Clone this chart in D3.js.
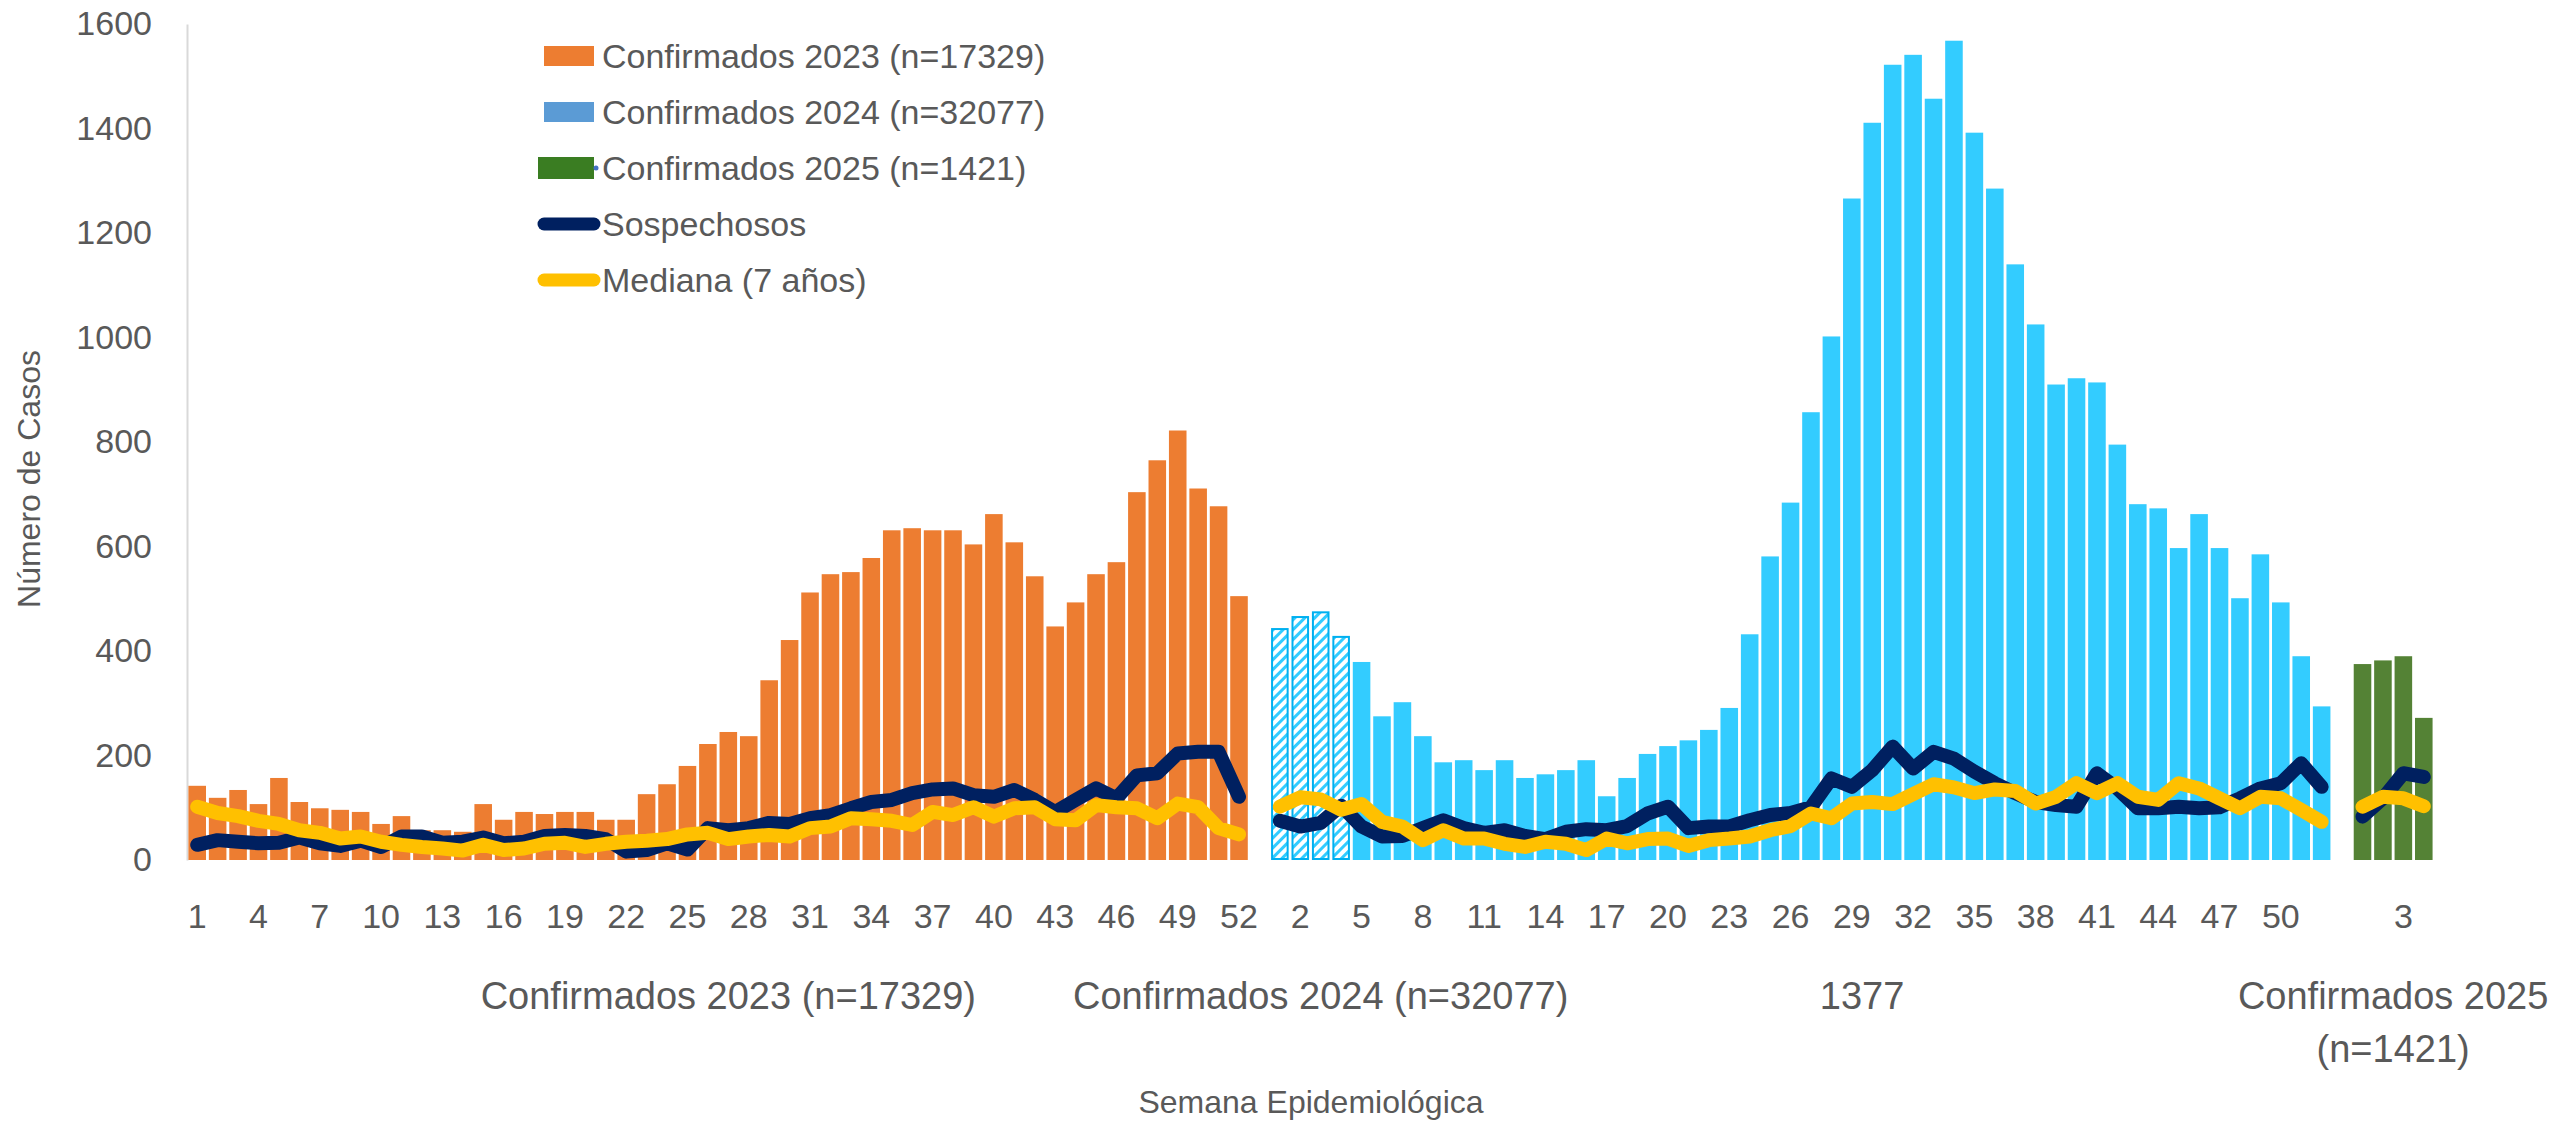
<!DOCTYPE html>
<html>
<head>
<meta charset="utf-8">
<script src="https://cdnjs.cloudflare.com/ajax/libs/d3/7.8.5/d3.min.js"></script>
<style>
body { margin: 0; background: #fff; }
text { font-family: "Liberation Sans", Arial, sans-serif; fill: #595959; }
</style>
</head>
<body>
<div id="chart"></div>
<script>
var width = 2554;
var height = 1121;

// casos confirmados por semana epidemiologica
var conf2023 = [142, 119, 134, 107, 157, 111, 99, 96, 92, 69, 84, 57, 57, 54, 107, 77, 92, 88, 92, 92,
    77, 77, 126, 145, 180, 222, 245, 237, 344, 421, 512, 547, 551, 578, 631, 635, 631, 631, 604, 662,
    608, 543, 447, 493, 547, 570, 704, 765, 822, 711, 677, 505];
var conf2024 = [442, 465, 474, 427, 379, 275, 302, 237, 187, 191, 172, 191, 157, 164, 172, 191, 122, 157, 203, 218,
    229, 249, 291, 432, 581, 684, 857, 1002, 1266, 1411, 1522, 1541, 1457, 1568, 1392, 1285, 1140, 1025, 910, 922,
    914, 795, 681, 673, 597, 662, 597, 501, 585, 493, 390, 294];
var conf2025 = [375, 382, 390, 272];
var hatched2024 = [1, 2, 3, 4];   // semanas con barras rayadas

var sosp2023 = [29, 38, 35, 32, 33, 43, 32, 27, 37, 25, 45, 45, 33, 35, 43, 32, 35, 46, 48, 46,
    40, 16, 19, 32, 20, 61, 57, 61, 71, 69, 80, 86, 99, 111, 115, 128, 135, 137, 124, 121,
    134, 115, 92, 115, 137, 118, 162, 166, 204, 207, 207, 121];
var sosp2024 = [75, 64, 71, 104, 64, 45, 46, 61, 76, 61, 52, 57, 46, 40, 54, 59, 57, 65, 89, 102,
    61, 64, 64, 76, 86, 90, 101, 156, 140, 172, 217, 175, 207, 194, 169, 147, 128, 111, 105, 102,
    166, 137, 99, 99, 102, 99, 101, 118, 137, 147, 185, 140];
var sosp2025 = [83, 118, 166, 159];

var med2023 = [102, 90, 84, 75, 69, 57, 52, 41, 45, 35, 29, 25, 22, 18, 29, 19, 22, 31, 33, 25,
    31, 35, 37, 40, 49, 52, 40, 45, 48, 45, 61, 64, 80, 78, 75, 67, 92, 86, 101, 83,
    99, 101, 78, 76, 105, 101, 99, 80, 108, 101, 61, 49];
var med2024 = [102, 120, 116, 96, 107, 73, 64, 38, 57, 41, 41, 31, 25, 35, 31, 19, 41, 32, 40, 41,
    27, 38, 41, 45, 57, 65, 89, 80, 108, 111, 107, 126, 145, 139, 128, 135, 132, 108, 121, 147,
    128, 147, 121, 115, 147, 137, 118, 99, 121, 118, 96, 73];
var med2025 = [102, 121, 118, 103];

var yTicks = [0, 200, 400, 600, 800, 1000, 1200, 1400, 1600];
var legendLabels = ["Confirmados 2023 (n=17329)", "Confirmados 2024 (n=32077)", "Confirmados 2025 (n=1421)",
    "Sospechosos", "Mediana (7 años)"];
// etiquetas de segundo nivel del eje x (posicion en indice de categoria)
var groupLabels = [
    {pos: 26, lines: ["Confirmados 2023 (n=17329)"]},
    {pos: 55, lines: ["Confirmados 2024 (n=32077)"]},
    {pos: 81.5, lines: ["1377"]},
    {pos: 107.5, lines: ["Confirmados 2025", "(n=1421)"]}
];

var orange = "#ED7D31", cyan = "#33CCFF", green = "#548235", navy = "#002060", gold = "#FFC000";

// categorias: 2023, hueco, 2024, hueco, 2025
var cats = [];
conf2023.forEach(function(v, i) { cats.push({key: "2023-" + (i + 1), week: i + 1}); });
cats.push({key: "gap1", week: null});
conf2024.forEach(function(v, i) { cats.push({key: "2024-" + (i + 1), week: i + 1}); });
cats.push({key: "gap2", week: null});
conf2025.forEach(function(v, i) { cats.push({key: "2025-" + (i + 1), week: i + 1}); });

var bars = [];
conf2023.forEach(function(v, i) { bars.push({key: "2023-" + (i + 1), value: v, fill: orange, hatch: false}); });
conf2024.forEach(function(v, i) {
    bars.push({key: "2024-" + (i + 1), value: v, fill: cyan, hatch: hatched2024.indexOf(i + 1) >= 0});
});
conf2025.forEach(function(v, i) { bars.push({key: "2025-" + (i + 1), value: v, fill: green, hatch: false}); });

function toLine(a, b, c) {
    var pts = [];
    cats.forEach(function(cat) {
        var v = null;
        if (cat.key.indexOf("2023-") == 0) v = a[cat.week - 1];
        if (cat.key.indexOf("2024-") == 0) v = b[cat.week - 1];
        if (cat.key.indexOf("2025-") == 0) v = c[cat.week - 1];
        pts.push({key: cat.key, value: v});
    });
    return pts;
}
var sospLine = toLine(sosp2023, sosp2024, sosp2025);
var medLine = toLine(med2023, med2024, med2025);

var svg = d3.select("#chart")
    .append("svg")
    .attr("width", width)
    .attr("height", height)
    .style("background", "#fff");

var x = d3.scaleBand()
    .domain(cats.map(function(d) { return d.key; }))
    .range([187, 2434])
    .paddingInner(0.14)
    .paddingOuter(0.07);

var y = d3.scaleLinear()
    .domain([0, 1600])
    .range([860, 24]);

function xAt(i) {
    var k = Math.floor(i);
    return x(cats[k].key) + x.bandwidth() / 2 + (i - k) * x.step();
}

var defs = svg.append("defs");
var pat = defs.append("pattern")
    .attr("id", "hatch")
    .attr("patternUnits", "userSpaceOnUse")
    .attr("width", 7)
    .attr("height", 7)
    .attr("patternTransform", "rotate(45)");
pat.append("rect").attr("width", 7).attr("height", 7).attr("fill", "#fff");
pat.append("rect").attr("width", 3).attr("height", 7).attr("fill", cyan);

// eje y
var yAxis = svg.append("g")
    .attr("transform", "translate(187,0)")
    .call(d3.axisLeft(y).tickValues(yTicks).tickFormat(d3.format("d"))
        .tickSize(0).tickSizeOuter(0).tickPadding(35));
yAxis.select(".domain").attr("stroke", "#D9D9D9").attr("stroke-width", 2);
yAxis.selectAll("text")
    .style("font-size", "34px")
    .style("font-family", "Liberation Sans, Arial, sans-serif")
    .attr("fill", "#595959");

// barras
svg.append("g")
    .selectAll("rect")
    .data(bars)
    .enter()
    .append("rect")
    .attr("x", function(d) { return d.hatch ? x(d.key) + 1 : x(d.key); })
    .attr("width", function(d) { return d.hatch ? x.bandwidth() - 2 : x.bandwidth(); })
    .attr("y", function(d) { return y(d.value); })
    .attr("height", function(d) { return y(0) - y(d.value) - (d.hatch ? 1 : 0); })
    .attr("fill", function(d) { return d.hatch ? "url(#hatch)" : d.fill; })
    .attr("stroke", function(d) { return d.hatch ? "#00B0F0" : "none"; })
    .attr("stroke-width", 2);

// lineas
var line = d3.line()
    .defined(function(d) { return d.value !== null; })
    .x(function(d) { return x(d.key) + x.bandwidth() / 2; })
    .y(function(d) { return y(d.value); });

svg.append("path")
    .datum(sospLine)
    .attr("d", line)
    .attr("fill", "none")
    .attr("stroke", navy)
    .attr("stroke-width", 14)
    .attr("stroke-linejoin", "round")
    .attr("stroke-linecap", "round");

svg.append("path")
    .datum(medLine)
    .attr("d", line)
    .attr("fill", "none")
    .attr("stroke", gold)
    .attr("stroke-width", 14)
    .attr("stroke-linejoin", "round")
    .attr("stroke-linecap", "round");

// eje x: semanas cada 3 categorias
var tickKeys = cats.filter(function(d, i) { return i % 3 == 0 && d.week !== null; })
    .map(function(d) { return d.key; });
var xAxis = svg.append("g")
    .attr("transform", "translate(0,860)")
    .call(d3.axisBottom(x).tickValues(tickKeys).tickSize(0).tickPadding(44)
        .tickFormat(function(k) { return k.split("-")[1]; }));
xAxis.select(".domain").remove();
xAxis.selectAll("text")
    .attr("dy", null)
    .style("font-size", "34px")
    .style("font-family", "Liberation Sans, Arial, sans-serif")
    .attr("fill", "#595959")
    .attr("y", 68);

// etiquetas de grupo
var gl = svg.append("g")
    .selectAll("text")
    .data(groupLabels)
    .enter()
    .append("text")
    .attr("x", function(d) { return xAt(d.pos); })
    .attr("y", 1009)
    .attr("text-anchor", "middle")
    .style("font-size", "38px");
gl.selectAll("tspan")
    .data(function(d) { return d.lines.map(function(l) { return {t: l, x: xAt(d.pos)}; }); })
    .enter()
    .append("tspan")
    .attr("x", function(d) { return d.x; })
    .attr("dy", function(d, i) { return i == 0 ? 0 : 53; })
    .text(function(d) { return d.t; });

// titulos de ejes
svg.append("text")
    .attr("x", 1311)
    .attr("y", 1113)
    .attr("text-anchor", "middle")
    .style("font-size", "32px")
    .text("Semana Epidemiológica");

svg.append("text")
    .attr("transform", "translate(40,479) rotate(-90)")
    .attr("text-anchor", "middle")
    .style("font-size", "32px")
    .text("Número de Casos");

// leyenda
var legendColors = [orange, "#5B9BD5", "#3A7D22", navy, gold];
var lg = svg.append("g")
    .selectAll("g")
    .data(legendLabels)
    .enter()
    .append("g")
    .attr("transform", function(d, i) { return "translate(0," + (56 + i * 56) + ")"; });

lg.filter(function(d, i) { return i < 3; })
    .append("rect")
    .attr("x", function(d, i) { return i == 2 ? 538 : 544; })
    .attr("y", function(d, i) { return i == 2 ? -11 : -10; })
    .attr("width", function(d, i) { return i == 2 ? 56 : 50; })
    .attr("height", function(d, i) { return i == 2 ? 22 : 20; })
    .attr("fill", function(d, i) { return legendColors[i]; });

lg.filter(function(d, i) { return i == 2; })
    .append("circle")
    .attr("cx", 596)
    .attr("cy", 0)
    .attr("r", 2.5)
    .attr("fill", "#4472C4");

lg.filter(function(d, i) { return i >= 3; })
    .append("line")
    .attr("x1", 544)
    .attr("x2", 594)
    .attr("y1", 0)
    .attr("y2", 0)
    .attr("stroke", function(d, i) { return legendColors[i + 3]; })
    .attr("stroke-width", 13)
    .attr("stroke-linecap", "round");

lg.append("text")
    .attr("x", 602)
    .attr("y", 12)
    .style("font-size", "34px")
    .text(function(d) { return d; });
</script>
</body>
</html>
